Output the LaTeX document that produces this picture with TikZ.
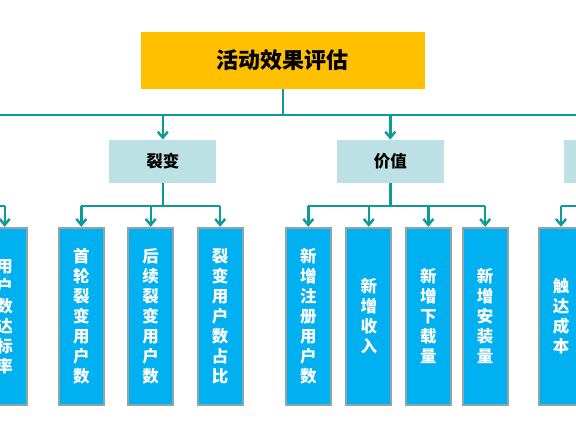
\documentclass[tikz,border=0pt]{standalone}
\usepackage{fontspec}
\newfontfamily\cjk{Noto Sans CJK SC}
\usetikzlibrary{arrows.meta}
\definecolor{tealline}{HTML}{0E9A96}
\definecolor{goldbox}{HTML}{FFC000}
\definecolor{paleblue}{HTML}{BCE0E4}
\definecolor{brightblue}{HTML}{00B0F0}
\definecolor{greyedge}{HTML}{8FA5A8}
\tikzset{
  conn/.style={draw=tealline, line width=2.4pt},
  arr/.style={conn, -{Straight Barb[length=6pt,width=10pt]}},
  topbox/.style={fill=goldbox, draw=none, minimum width=284pt, minimum height=57pt, inner sep=0pt,
    font=\cjk\bfseries\fontsize{22}{26}\selectfont},
  midbox/.style={fill=paleblue, draw=none, minimum width=107pt, minimum height=43.5pt, inner sep=0pt,
    font=\cjk\bfseries\fontsize{16.5}{20}\selectfont},
  leafbox/.style={fill=brightblue, draw=greyedge, line width=2pt, minimum width=45pt, minimum height=177pt,
    inner sep=0pt, text=white, align=center, font=\cjk\bfseries\fontsize{16.5}{20}\selectfont}
}
\begin{document}
\begin{tikzpicture}[x=1pt,y=-1pt]
\useasboundingbox (0,0) rectangle (576,432);
\clip (0,0) rectangle (576,432);
\fill[white] (0,0) rectangle (576,432);
% top
\node[topbox] (top) at (282.8,60.5) {活动效果评估};
\coordinate (busL) at (-20,115);
\coordinate (busR) at (600,115);
\coordinate (bus) at (282.8,115);
\draw[conn] (top.south) -- (bus);
\draw[conn] (busL) -- (busR);
% level 2
\node[midbox] (lb) at (162.8,161.5) {裂变};
\node[midbox] (jz) at (390.3,161.5) {价值};
\node[midbox] (rt) at (617.8,161.5) {};
\draw[arr] (lb.north |- busL) -- (lb.north);
\draw[arr] (jz.north |- busL) -- (jz.north);
\draw[arr] (rt.north |- busL) -- (rt.north);
% level 3
\node[leafbox] (a0) at (4.7,316.3) {用\\户\\数\\达\\标\\率};
\node[leafbox] (a1) at (81.3,316.3) {首\\轮\\裂\\变\\用\\户\\数};
\node[leafbox] (a2) at (150.7,316.3) {后\\续\\裂\\变\\用\\户\\数};
\node[leafbox] (a3) at (220.2,316.3) {裂\\变\\用\\户\\数\\占\\比};
\node[leafbox] (b1) at (308.3,316.3) {新\\增\\注\\册\\用\\户\\数};
\node[leafbox] (b2) at (368.8,316.3) {新\\增\\收\\入};
\node[leafbox] (b3) at (428.4,316.3) {新\\增\\下\\载\\量};
\node[leafbox] (b4) at (485.2,316.3) {新\\增\\安\\装\\量};
\node[leafbox] (c1) at (561.0,316.3) {触\\达\\成\\本};
% group buses
\coordinate (gL) at (-20,206);
\coordinate (gR) at (600,206);
% left group
\draw[conn] (gL) -- (a0.north |- gL);
\draw[arr] (a0.north |- gL) -- (a0.north);
% 裂变 group
\draw[conn] (lb.south) -- (lb.south |- gL);
\draw[conn] (a1.north |- gL) -- (a3.north |- gL);
\draw[arr] (a1.north |- gL) -- (a1.north);
\draw[arr] (a2.north |- gL) -- (a2.north);
\draw[arr] (a3.north |- gL) -- (a3.north);
% 价值 group
\draw[conn] (jz.south) -- (jz.south |- gL);
\draw[conn] (b1.north |- gL) -- (b4.north |- gL);
\draw[arr] (b1.north |- gL) -- (b1.north);
\draw[arr] (b2.north |- gL) -- (b2.north);
\draw[arr] (b3.north |- gL) -- (b3.north);
\draw[arr] (b4.north |- gL) -- (b4.north);
% right group
\draw[conn] (c1.north |- gL) -- (gR);
\draw[arr] (c1.north |- gL) -- (c1.north);
\end{tikzpicture}
\end{document}
